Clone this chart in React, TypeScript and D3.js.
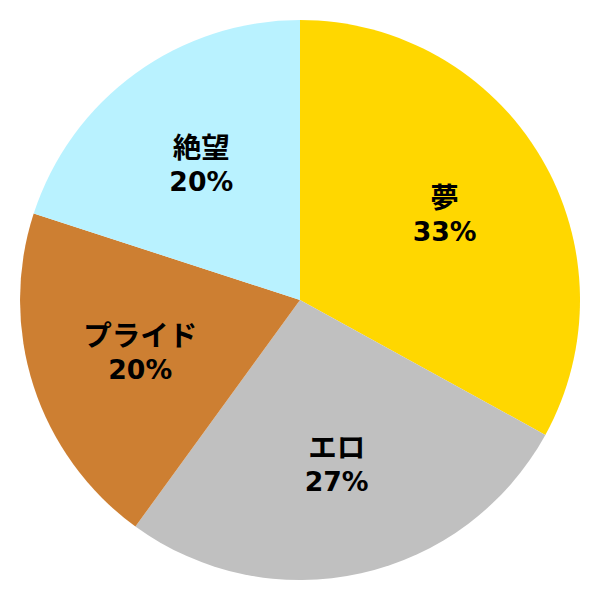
import React from "react";
import * as d3 from "d3";

const categories = ["夢", "エロ", "プライド", "絶望"];
const values = [33, 27, 20, 20];
const colors = ["#FFD700", "#C0C0C0", "#CD7F32", "#B9F2FF"];

export default function App() {
  const W = 600, H = 600, R = 280;
  const data = categories.map((c, i) => ({ c, v: values[i], col: colors[i] }));
  const pie = d3.pie<any>().value((d: any) => d.v).sort(null);
  const arcs = pie(data);
  const arc = d3.arc<any>().innerRadius(0).outerRadius(R);
  const labelArc = d3.arc<any>().innerRadius(R * 0.6).outerRadius(R * 0.6);
  const total = d3.sum(values);
  return (
    <svg width={W} height={H} style={{ position: "absolute", left: 0, top: 0 }}>
      <g transform={`translate(300,300)`}>
        {arcs.map((a, i) => (
          <path key={i} d={arc(a) as string} fill={a.data.col} stroke="none" />
        ))}
        {arcs.map((a, i) => {
          const [x, y] = labelArc.centroid(a);
          return (
            <text
              key={"t" + i}
              x={x}
              y={y}
              textAnchor="middle"
              fontFamily="DejaVu Sans, 'Noto Sans CJK JP', sans-serif"
              fontWeight="bold"
              fontSize={26.7}
              fill="#000"
            >
              <tspan x={x} dy={-6} fontSize={28.5}>{a.data.c}</tspan>
              <tspan x={x} dy={33}>{Math.round((a.data.v / total) * 100)}%</tspan>
            </text>
          );
        })}
      </g>
    </svg>
  );
}
